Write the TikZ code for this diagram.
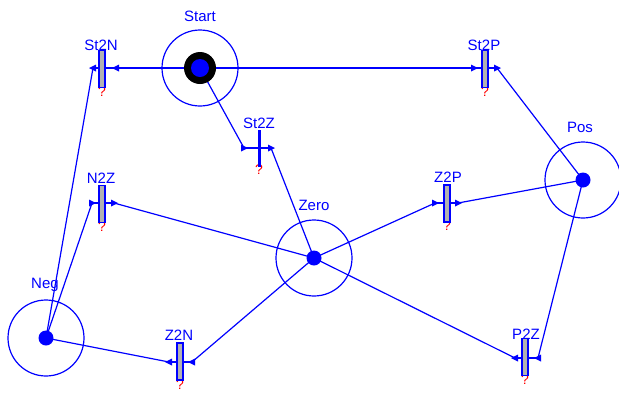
\documentclass[tikz,border=0pt]{standalone}
\usepackage{fontspec}
\setmainfont{Liberation Sans}
\begin{document}
\begin{tikzpicture}[x=1pt,y=-1pt,
  arc/.style={draw=blue,line width=1.2pt},
  place/.style={circle,draw=blue,line width=1.2pt,minimum size=76pt,inner sep=0pt},
  tok/.style={circle,fill=blue,minimum size=15pt,inner sep=0pt},
  tbar/.style={rectangle,draw=blue,fill=gray!60,line width=1.6pt,minimum width=6pt,minimum height=37pt,inner sep=0pt},
  lbl/.style={text=blue,font=\fontsize{15}{17}\selectfont,inner sep=0pt},
  qm/.style={text=red,font=\fontsize{14}{15}\selectfont,inner sep=0pt},
]
\useasboundingbox (0,0) rectangle (619,392);
\tikzset{
  tri/.pic={\fill[blue] (-3,-3.5) -- (4,0) -- (-3,3.5) -- cycle;},
  tril/.pic={\fill[blue] (3,-3.5) -- (-4,0) -- (3,3.5) -- cycle;}
}
% places
\node[place] (Start) at (200,68) {};
\node[place] (Pos) at (583,180) {};
\node[place] (Zero) at (314,258) {};
\node[place] (Neg) at (46,338) {};
% transition stub coordinates
\coordinate (St2N-l) at (93,68);  \coordinate (St2N-r) at (116,68);
\coordinate (St2P-l) at (474,68); \coordinate (St2P-r) at (497,68);
\coordinate (St2Z-l) at (244,148); \coordinate (St2Z-r) at (271,148);
\coordinate (N2Z-l) at (92,203); \coordinate (N2Z-r) at (114,203);
\coordinate (Z2P-l) at (435,203); \coordinate (Z2P-r) at (458,203);
\coordinate (Z2N-l) at (169,362); \coordinate (Z2N-r) at (192,362);
\coordinate (P2Z-l) at (515,358); \coordinate (P2Z-r) at (538,358);
% arcs
\draw[arc] (Start.center) -- (St2N-r);
\draw[arc] (St2N-l) -- (Neg.center);
\draw[arc] (Start.center) -- (St2P-l);
\draw[arc] (St2P-r) -- (Pos.center);
\draw[arc] (Start.center) -- (St2Z-l);
\draw[arc] (St2Z-r) -- (Zero.center);
\draw[arc] (Neg.center) -- (N2Z-l);
\draw[arc] (N2Z-r) -- (Zero.center);
\draw[arc] (Zero.center) -- (Z2P-l);
\draw[arc] (Z2P-r) -- (Pos.center);
\draw[arc] (Zero.center) -- (Z2N-r);
\draw[arc] (Z2N-l) -- (Neg.center);
\draw[arc] (Pos.center) -- (P2Z-r);
\draw[arc] (P2Z-l) -- (Zero.center);
% stubs
\draw[arc] (St2N-l) -- (St2N-r);
\draw[arc] (St2P-l) -- (St2P-r);
\draw[arc] (St2Z-l) -- (St2Z-r);
\draw[arc] (N2Z-l) -- (N2Z-r);
\draw[arc] (Z2P-l) -- (Z2P-r);
\draw[arc] (Z2N-l) -- (Z2N-r);
\draw[arc] (P2Z-l) -- (P2Z-r);
% tips
\pic at (St2N-l) {tril}; \pic at (St2N-r) {tril};
\pic at (St2P-l) {tri}; \pic at (St2P-r) {tri};
\pic at (St2Z-l) {tri}; \pic at (St2Z-r) {tri};
\pic at (N2Z-l) {tri}; \pic at (N2Z-r) {tri};
\pic at (Z2P-l) {tri}; \pic at (Z2P-r) {tri};
\pic at (Z2N-l) {tril}; \pic at (Z2N-r) {tril};
\pic at (P2Z-l) {tril}; \pic at (P2Z-r) {tril};
% question marks (behind bars)
\foreach \t/\x/\y in {St2N/102/92,St2P/485/92,St2Z/259/170,N2Z/102/227,Z2P/447/226,Z2N/180/385,P2Z/525/380}{
  \node[qm] (\t-q) at (\x,\y) {?};
}
% bars
\node[tbar] (St2N) at (102,69) {};
\node[tbar] (St2P) at (485,69) {};
\node[tbar,fill=blue,minimum width=3pt,draw=none] (St2Z) at (259,148.5) {};
\node[tbar] (N2Z) at (102,204) {};
\node[tbar] (Z2P) at (447,203.5) {};
\node[tbar] (Z2N) at (180,361.5) {};
\node[tbar] (P2Z) at (525,357) {};
% tokens
\node[circle,fill=black,minimum size=32pt,inner sep=0pt] (Start-ring) at (Start.center) {};
\node[tok,minimum size=18pt] (Start-tok) at (Start.center) {};
\node[tok] (Pos-tok) at (Pos.center) {};
\node[tok] (Zero-tok) at (Zero.center) {};
\node[tok] (Neg-tok) at (Neg.center) {};
% labels
\node[lbl] (Start-lab) at (200,16) {Start};
\node[lbl] (Pos-lab) at (580,127) {Pos};
\node[lbl] (Zero-lab) at (314,205) {Zero};
\node[lbl] (Neg-lab) at (45,285) {Neg};
\node[lbl] (St2N-lab) at (101,45) {St2N};
\node[lbl] (St2P-lab) at (484,45) {St2P};
\node[lbl] (St2Z-lab) at (259,123) {St2Z};
\node[lbl] (N2Z-lab) at (101,178) {N2Z};
\node[lbl] (Z2P-lab) at (448,177) {Z2P};
\node[lbl] (Z2N-lab) at (179,335) {Z2N};
\node[lbl] (P2Z-lab) at (526,334) {P2Z};
\end{tikzpicture}
\end{document}
